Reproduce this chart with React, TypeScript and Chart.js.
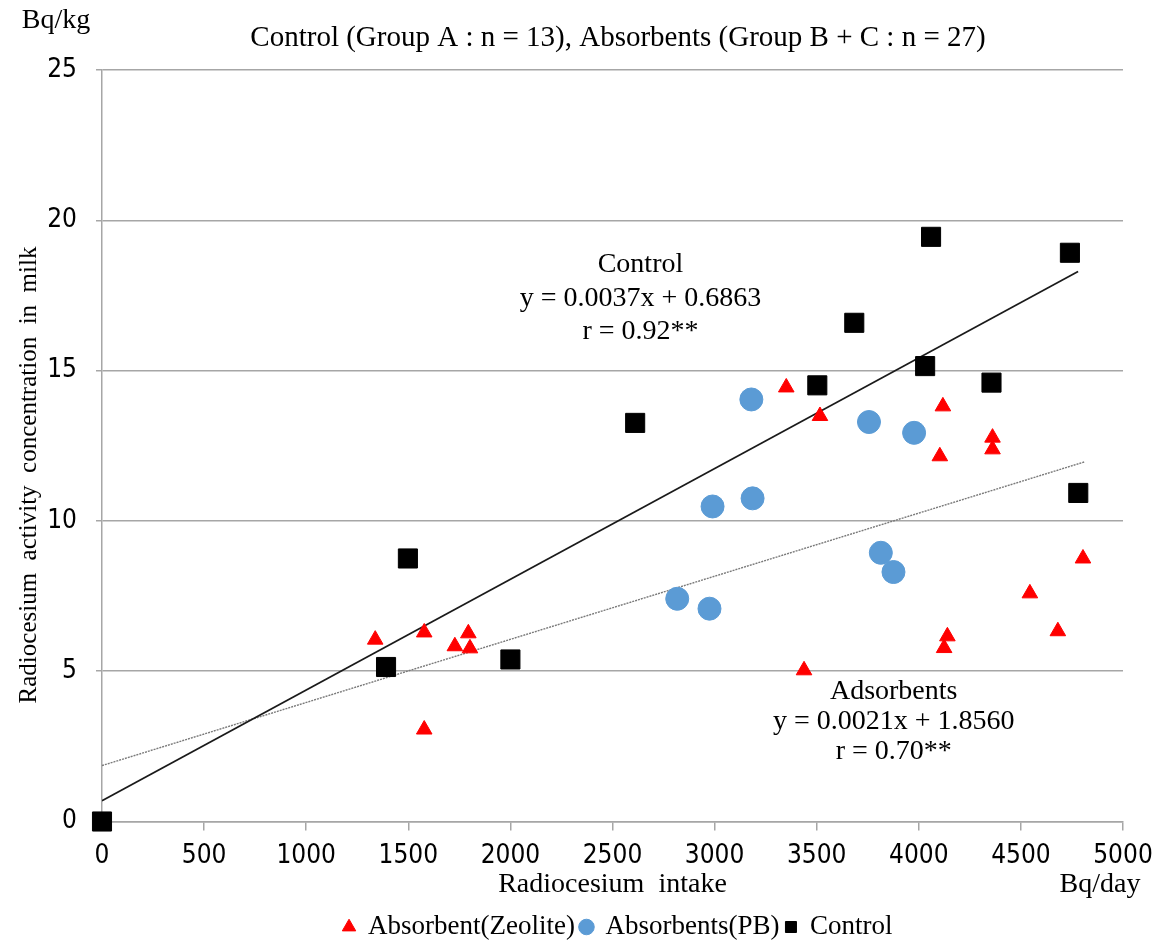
import React, { useEffect, useRef } from "react";
import { Chart, registerables } from "chart.js";

Chart.register(...registerables);

// ---- Data ----
const zeoliteX = [1338, 1578, 1578, 1728, 1794, 1802, 3351, 3516, 3438, 4118, 4103, 4361, 4361, 4140, 4124, 4544, 4681, 4804];
const zeoliteY = [6.05, 6.29, 3.06, 5.83, 6.26, 5.76, 14.44, 13.49, 5.03, 13.81, 12.15, 12.77, 12.38, 6.16, 5.77, 7.59, 6.33, 8.75];

const pbX = [2817, 2975, 2990, 3180, 3186, 3756, 3977, 3814, 3876];
const pbY = [7.41, 7.08, 10.48, 14.04, 10.75, 13.29, 12.93, 8.94, 8.3];

const controlX = [0, 1391, 1498, 2000, 2611, 3503, 3684, 4031, 4060, 4356, 4740, 4781];
const controlY = [0, 5.14, 8.75, 5.39, 13.26, 14.51, 16.59, 15.15, 19.45, 14.6, 18.92, 10.93];

// regression lines (end points)
const controlTrendX = [0, 4780];
const controlTrendY = [0.69, 18.3];
const adsorbTrendX = [0, 4810];
const adsorbTrendY = [1.86, 11.96];

const seriesLabels = ["Absorbent(Zeolite)", "Absorbents(PB)", "Control"];

const titleText = "Control (Group A : n = 13), Absorbents (Group B + C : n = 27)";
const yUnit = "Bq/kg";
const xUnit = "Bq/day";
const xTitle = "Radiocesium  intake";
const yTitle = "Radiocesium  activity  concentration  in  milk";

const controlNote = ["Control", "y = 0.0037x + 0.6863", "r = 0.92**"];
const controlNoteX = 2637;
const controlNoteY = [18.51, 17.41, 16.31];
const adsorbNote = ["Adsorbents", "y = 0.0021x + 1.8560", "r = 0.70**"];
const adsorbNoteX = 3877;
const adsorbNoteY = [4.31, 3.33, 2.33];

const SERIF = "'Liberation Serif', 'Times New Roman', serif";
const NARROW = "'Liberation Sans Narrow', 'DejaVu Sans Condensed', sans-serif";

const toPts = (xs: number[], ys: number[]) => xs.map((x, i) => ({ x, y: ys[i] }));

const textPlugin = {
  id: "extraTexts",
  afterDraw(chart: any) {
    const ctx = chart.ctx;
    const xs = chart.scales.x;
    const ys = chart.scales.y;
    ctx.save();
    ctx.fillStyle = "#000";
    ctx.textAlign = "center";
    ctx.textBaseline = "middle";
    ctx.font = `29px ${SERIF}`;
    ctx.fillText(titleText, 618, 38);
    ctx.font = `28px ${SERIF}`;
    ctx.fillText(yUnit, 56, 21);
    ctx.fillText(xUnit, 1100, 885);
    controlNote.forEach((t, i) =>
      ctx.fillText(t, xs.getPixelForValue(controlNoteX), ys.getPixelForValue(controlNoteY[i]))
    );
    adsorbNote.forEach((t, i) =>
      ctx.fillText(t, xs.getPixelForValue(adsorbNoteX), ys.getPixelForValue(adsorbNoteY[i]))
    );
    ctx.translate(29, 475);
    ctx.rotate(-Math.PI / 2);
    ctx.font = `25px ${SERIF}`;
    ctx.fillText(yTitle, 0, 0);
    ctx.restore();
  },
};

const legendPlace = {
  id: "legendPlace",
  afterLayout(chart: any) {
    const l = chart.legend;
    if (!l || !l.lineWidths) return;
    const pad = l.options.labels.padding;
    const lw = l.lineWidths[0];
    const w = l.width;
    l.left = 618 - pad - (lw - pad) / 2;
    l.right = l.left + w;
    const ih = l.legendHitBoxes && l.legendHitBoxes[0] ? l.legendHitBoxes[0].height : 27;
    const h = l.height;
    l.top = 927 - ih / 2 - pad;
    l.bottom = l.top + h;
  },
};

export default function App() {
  const ref = useRef<HTMLCanvasElement | null>(null);
  useEffect(() => {
    if (!ref.current) return;
    const chart = new Chart(ref.current, {
      type: "scatter",
      data: {
        datasets: [
          {
            label: seriesLabels[0],
            data: toPts(zeoliteX, zeoliteY),
            pointStyle: "triangle",
            pointRadius: 9,
            backgroundColor: "#ff0000",
            borderColor: "#ff0000",
            borderWidth: 1,
            clip: false,
          },
          {
            label: seriesLabels[1],
            data: toPts(pbX, pbY),
            pointStyle: "circle",
            pointRadius: 11.5,
            backgroundColor: "#5b9bd5",
            borderColor: "#5b9bd5",
            borderWidth: 1,
            clip: false,
          },
          {
            label: seriesLabels[2],
            data: toPts(controlX, controlY),
            pointStyle: "rect",
            pointRadius: 13.5,
            backgroundColor: "#000000",
            borderColor: "#000000",
            borderWidth: 1,
            clip: false,
          },
          {
            label: "trend-control",
            data: toPts(controlTrendX, controlTrendY),
            showLine: true,
            pointRadius: 0,
            borderColor: "#1a1a1a",
            borderWidth: 1.7,
            fill: false,
          },
          {
            label: "trend-adsorb",
            data: toPts(adsorbTrendX, adsorbTrendY),
            showLine: true,
            pointRadius: 0,
            borderColor: "#7a7a7a",
            borderWidth: 1.4,
            borderDash: [2, 1],
            fill: false,
          },
        ],
      } as any,
      options: {
        animation: false,
        responsive: true,
        maintainAspectRatio: false,
        events: [],
        layout: { padding: { left: 0, right: 35, top: 70, bottom: 0 } },
        plugins: {
          tooltip: { enabled: false },
          title: { display: false },
          legend: {
            display: true,
            position: "bottom",
            align: "start",
            labels: {
              usePointStyle: true,
              boxWidth: 11,
              boxHeight: 11,
              padding: 6,
              color: "#000",
              font: { family: SERIF, size: 27 },
              filter: (item: any) => item.datasetIndex < 3,
            },
          },
        },
        scales: {
          x: {
            type: "linear",
            min: 0,
            max: 5000,
            ticks: {
              stepSize: 500,
              autoSkip: false,
              maxRotation: 0,
              padding: 10,
              color: "#000",
              font: { family: NARROW, size: 26 },
              callback: (v: any) => String(v),
            },
            grid: {
              drawOnChartArea: false,
              drawTicks: true,
              tickLength: 9,
              color: "#a6a6a6",
              lineWidth: 1.5,
            },
            border: { display: true, color: "#a6a6a6", width: 1.5 },
            title: {
              display: true,
              text: xTitle,
              color: "#000",
              font: { family: SERIF, size: 28, lineHeight: 1 },
              padding: { top: 0, bottom: 0 },
            },
            afterFit(s: any) {
              const lh = s.chart.legend ? s.chart.legend.height : 43;
              s.height = s.chart.height - lh - 821.5;
              s.paddingLeft = 0;
              s.paddingRight = 0;
            },
          },
          y: {
            min: 0,
            max: 25,
            ticks: {
              stepSize: 5,
              padding: 19,
              color: "#000",
              font: { family: NARROW, size: 26 },
            },
            grid: {
              color: "#a6a6a6",
              lineWidth: 1.5,
              drawTicks: true,
              tickLength: 6,
            },
            border: { display: true, color: "#a6a6a6", width: 1.5 },
            afterFit(s: any) {
              s.width = 102;
            },
          },
        },
      } as any,
      plugins: [textPlugin, legendPlace],
    });
    return () => chart.destroy();
  }, []);
  return (
    <div style={{ position: "absolute", left: 0, top: 0, width: 1158, height: 942, background: "#fff" }}>
      <canvas ref={ref} />
    </div>
  );
}
